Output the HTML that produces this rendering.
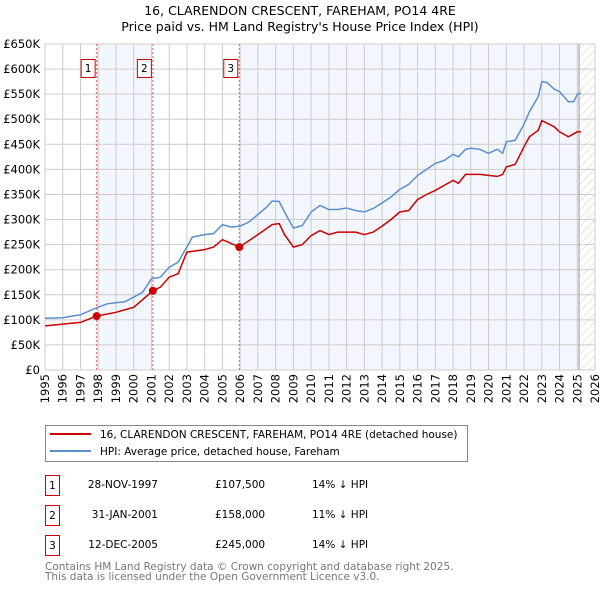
<!DOCTYPE html>
<html><head><meta charset="utf-8"><style>
body{margin:0;background:#fff;width:600px;height:590px;overflow:hidden;font-family:"DejaVu Sans","Liberation Sans",sans-serif;}
svg text{font-family:"DejaVu Sans","Liberation Sans",sans-serif;}
</style></head><body>
<svg id="c" width="600" height="590" xmlns="http://www.w3.org/2000/svg">
<defs><pattern id="hatch" width="6" height="6" patternUnits="userSpaceOnUse" patternTransform="rotate(45)"><line x1="0" y1="0" x2="0" y2="6" stroke="#ccc" stroke-width="1"/></pattern></defs>
<text x="300" y="15" text-anchor="middle" font-size="12.5" fill="#000">16, CLARENDON CRESCENT, FAREHAM, PO14 4RE</text>
<text x="300" y="31" text-anchor="middle" font-size="12.5" fill="#000">Price paid vs. HM Land Registry's House Price Index (HPI)</text>
<g id="plot"></g>
<g>
<rect x="45.5" y="425.5" width="422" height="36" fill="#fff" stroke="#888"/>
<line x1="50" y1="434" x2="91" y2="434" stroke="#cc0000" stroke-width="2"/>
<text x="100" y="438" font-size="10.5">16, CLARENDON CRESCENT, FAREHAM, PO14 4RE (detached house)</text>
<line x1="50" y1="451" x2="91" y2="451" stroke="#5b8fd0" stroke-width="2"/>
<text x="100" y="455" font-size="10.5">HPI: Average price, detached house, Fareham</text>
</g>
<g font-size="10.5">
<rect x="45.5" y="475.5" width="14" height="20" fill="none" stroke="#cc0000"/><text x="52.5" y="489" text-anchor="middle">1</text>
<text x="158" y="488" text-anchor="end">28-NOV-1997</text>
<text x="215" y="488">£107,500</text>
<text x="312" y="488">14% ↓ HPI</text>
<rect x="45.5" y="505.5" width="14" height="20" fill="none" stroke="#cc0000"/><text x="52.5" y="519" text-anchor="middle">2</text>
<text x="158" y="518" text-anchor="end">31-JAN-2001</text>
<text x="215" y="518">£158,000</text>
<text x="312" y="518">11% ↓ HPI</text>
<rect x="45.5" y="535.5" width="14" height="20" fill="none" stroke="#cc0000"/><text x="52.5" y="549" text-anchor="middle">3</text>
<text x="158" y="548" text-anchor="end">12-DEC-2005</text>
<text x="215" y="548">£245,000</text>
<text x="312" y="548">14% ↓ HPI</text>
</g>
<text x="45" y="570" font-size="10.5" fill="#777">Contains HM Land Registry data © Crown copyright and database right 2025.</text>
<text x="45" y="580" font-size="10.5" fill="#777">This data is licensed under the Open Government Licence v3.0.</text>
</svg>
<script>
const hpiYears=[1995,1996,1997,1997.9,1998.5,1999.5,2000.5,2001,2001.5,2002,2002.5,2003,2003.3,2004,2004.5,2005,2005.5,2006,2006.5,2007,2007.5,2007.8,2008.2,2008.5,2009,2009.5,2010,2010.5,2011,2011.5,2012,2012.5,2013,2013.5,2014,2014.5,2015,2015.5,2016,2016.5,2017,2017.5,2018,2018.3,2018.7,2019,2019.5,2020,2020.5,2020.8,2021,2021.5,2022,2022.3,2022.8,2023,2023.3,2023.7,2024,2024.5,2024.8,2025,2025.2];
const hpiValues=[103,104,110,124,132,136,155,182,185,205,215,245,265,270,272,290,285,287,295,310,325,337,336,315,283,288,315,328,320,320,323,318,315,322,333,345,360,370,388,400,412,418,430,425,440,442,440,432,440,432,455,458,490,515,545,575,573,560,555,535,535,550,552];
const propYears=[1995,1997,1997.9,1999,2000,2001.08,2001.5,2002,2002.5,2003,2004,2004.5,2005,2005.5,2005.95,2006.5,2007,2007.8,2008.2,2008.5,2009,2009.5,2010,2010.5,2011,2011.5,2012,2012.5,2013,2013.5,2014,2014.5,2015,2015.5,2016,2016.5,2017,2017.5,2018,2018.3,2018.7,2019,2019.5,2020,2020.5,2020.8,2021,2021.5,2022,2022.3,2022.8,2023,2023.3,2023.7,2024,2024.5,2025,2025.2];
const propValues=[88,95,107.5,115,125,158,165,185,192,235,240,245,260,252,245,258,270,290,292,270,245,250,268,278,270,275,275,275,270,275,287,300,315,318,340,350,358,368,378,372,390,390,390,388,386,390,405,410,445,465,478,497,492,485,475,465,475,475];
const saleYears=[1997.91,2001.08,2005.95];
const saleValues=[107.5,158,245];
const saleLabels=["1","2","3"];
const yTicks=[0,50,100,150,200,250,300,350,400,450,500,550,600,650];
const yTickLabels=["£0","£50K","£100K","£150K","£200K","£250K","£300K","£350K","£400K","£450K","£500K","£550K","£600K","£650K"];
const xTicks=[1995,1996,1997,1998,1999,2000,2001,2002,2003,2004,2005,2006,2007,2008,2009,2010,2011,2012,2013,2014,2015,2016,2017,2018,2019,2020,2021,2022,2023,2024,2025,2026];

const X0=45,X1=595,Y0=370,Y1=44;
const xs=v=>X0+(v-1995)/(2026-1995)*(X1-X0);
const ys=v=>Y0-v/650*(Y0-Y1);
const NS="http://www.w3.org/2000/svg";
const g=document.getElementById('plot');
function mk(t,a){const e=document.createElementNS(NS,t);for(const k in a)e.setAttribute(k,a[k]);g.appendChild(e);return e;}
let e=mk('rect',{x:X0,y:Y1,width:X1-X0,height:Y0-Y1,fill:'#fff'});


e=mk('rect',{x:xs(saleYears[0]),y:Y1,width:xs(saleYears[1])-xs(saleYears[0]),height:Y0-Y1,fill:'#f3f7fd'});


e=mk('rect',{x:xs(saleYears[2]),y:Y1,width:xs(2025.1)-xs(saleYears[2]),height:Y0-Y1,fill:'#f3f7fd'});


e=mk('rect',{x:xs(2025.1),y:Y1,width:X1-xs(2025.1),height:Y0-Y1,fill:'url(#hatch)'});


yTicks.forEach((v,i)=>{
 e=mk('line',{x1:X0,x2:X1,y1:ys(v),y2:ys(v),stroke:'#ccc','stroke-width':1});
 
 
 e=mk('text',{x:X0-5,y:ys(v)+4,'text-anchor':'end','font-size':'11.5'});e.textContent=yTickLabels[i];
 
 
});
xTicks.forEach(v=>{
 e=mk('line',{x1:xs(v),x2:xs(v),y1:Y1,y2:Y0,stroke:'#ccc','stroke-width':1});
 
 
 e=mk('text',{x:0,y:0,'text-anchor':'end','font-size':'11.5',transform:`translate(${xs(v)+4},374) rotate(-90)`});e.textContent=v;
 
 
});
e=mk('line',{x1:xs(2025.1),x2:xs(2025.1),y1:Y1,y2:Y0,stroke:'#999','stroke-width':1});


saleYears.forEach((v,i)=>{
 e=mk('line',{x1:xs(v),x2:xs(v),y1:Y1,y2:Y0,stroke:'#e06060','stroke-width':1,'stroke-dasharray':'2,2'});
 
 
 e=mk('rect',{x:xs(v)-15.5,y:59.5,width:14,height:18,fill:'#fff',stroke:'#cc0000'});
 
 
 e=mk('text',{x:xs(v)-8.5,y:72,'text-anchor':'middle','font-size':'10.5'});e.textContent=saleLabels[i];
 
 
});
const pts=(a,b)=>a.map((v,i)=>xs(v).toFixed(1)+','+ys(b[i]).toFixed(1)).join(' ');
e=mk('polyline',{points:pts(hpiYears,hpiValues),fill:'none',stroke:'#5b8fd0','stroke-width':1.5});


e=mk('polyline',{points:pts(propYears,propValues),fill:'none',stroke:'#cc0000','stroke-width':1.5});


saleYears.forEach((v,i)=>{
 e=mk('circle',{cx:xs(v),cy:ys(saleValues[i]),r:4,fill:'#cc0000'});
 
 
});
</script>
</body></html>
